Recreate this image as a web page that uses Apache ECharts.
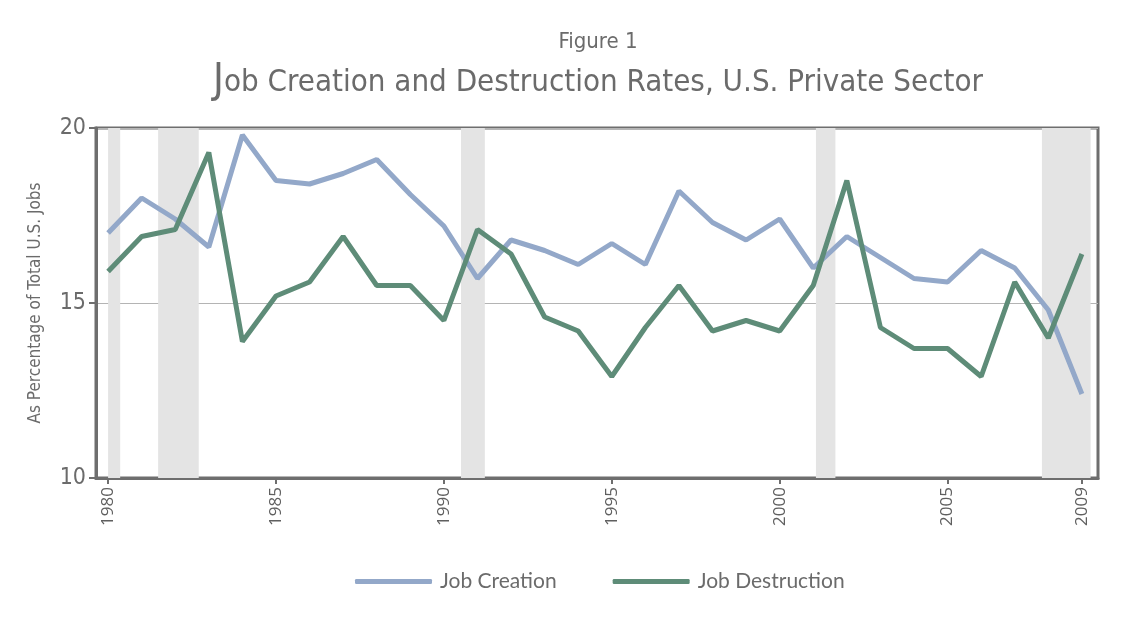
<!DOCTYPE html>
<html>
<head>
<meta charset="utf-8">
<script src="https://cdn.jsdelivr.net/npm/echarts@6/dist/echarts.min.js"></script>
<style>
html,body{margin:0;padding:0;background:#fff;}
#chart{width:1131px;height:619px;}
</style>
</head>
<body>
<div id="chart"></div>
<script>
const years = [1980,1981,1982,1983,1984,1985,1986,1987,1988,1989,1990,1991,1992,1993,1994,1995,1996,1997,1998,1999,2000,2001,2002,2003,2004,2005,2006,2007,2008,2009];
const jobCreation = [17.0,18.0,17.4,16.6,19.8,18.5,18.4,18.7,19.1,18.1,17.2,15.7,16.8,16.5,16.1,16.7,16.1,18.2,17.3,16.8,17.4,16.0,16.9,16.3,15.7,15.6,16.5,16.0,14.8,12.4];
const jobDestruction = [15.9,16.9,17.1,19.3,13.9,15.2,15.6,16.9,15.5,15.5,14.5,17.1,16.4,14.6,14.2,12.9,14.3,15.5,14.2,14.5,14.2,15.5,18.5,14.3,13.7,13.7,12.9,15.6,14.0,16.4];
const recessions = [[1980.0,1980.36],[1981.49,1982.70],[1990.51,1991.22],[2001.08,2001.66],[2007.81,2009.26]];
const xTickLabels = [1980,1985,1990,1995,2000,2005,2009];

const chart = echarts.init(document.getElementById('chart'));
const grey = '#6b6b6b';
const narrow = '"Liberation Sans Narrow", "DejaVu Sans Condensed", sans-serif';

const option = {
  animation: false,
  backgroundColor: '#fff',
  graphic: [
    {type:'text', x:598, y:42, style:{text:'Figure 1', fill:grey, font:'22px ' + narrow, textAlign:'center', textVerticalAlign:'middle'}},
    {type:'text', x:598, y:83, style:{
      text:'{j|J}ob Creation and Destruction Rates, U.S. Private Sector',
      fill:grey, font:'31px ' + narrow, textAlign:'center', textVerticalAlign:'middle',
      rich:{j:{fontSize:41, fontFamily:narrow, fill:grey, padding:[0,0,4,0]}}
    }}
  ],
  legend: {
    bottom: 22, left: 350,
    itemWidth: 77, itemHeight: 5, itemGap: 56,
    icon: 'roundRect',
    textStyle: {color: grey, fontSize: 21, fontFamily: 'Lato, "Noto Sans", sans-serif', padding:[0,0,0,3]},
    data: ['Job Creation', 'Job Destruction']
  },
  grid: {
    left: 96, right: 33, top: 128, bottom: 141,
    show: true, borderColor: '#6e6e6e', borderWidth: 3, backgroundColor: '#fff'
  },
  xAxis: {
    type: 'value', min: 1979.64, max: 2009.48,
    axisLine: {show: true, lineStyle: {color: '#6e6e6e', width: 3}},
    axisTick: {show: true, customValues: xTickLabels, length: 6, lineStyle: {color: '#6e6e6e', width: 2}},
    axisLabel: {customValues: xTickLabels, rotate: 90, color: '#5f5f5f', fontSize: 17, fontFamily: '"Open Sans", sans-serif', margin: 9, formatter: v => String(v)},
    splitLine: {show: false}
  },
  yAxis: {
    type: 'value', min: 10, max: 20, interval: 5,
    name: 'As Percentage of Total U.S. Jobs', nameLocation: 'middle', nameGap: 52, nameRotate: 90,
    nameTextStyle: {color: grey, fontSize: 17, fontFamily: narrow},
    axisLine: {show: true, lineStyle: {color: '#6e6e6e', width: 3}},
    axisTick: {show: true, length: 7, lineStyle: {color: '#6e6e6e', width: 2}},
    axisLabel: {color: grey, fontSize: 23, fontFamily: narrow, margin: 10},
    splitLine: {show: true, lineStyle: {color: '#b4b4b4', width: 1}}
  },
  series: [
    {
      name: 'Job Creation', type: 'line', symbol: 'none',
      data: years.map((y,i) => [y, jobCreation[i]]),
      lineStyle: {color: '#93a8c9', width: 5},
      itemStyle: {color: '#93a8c9'},
      z: 3,
      markArea: {
        silent: true,
        itemStyle: {color: '#e4e4e4'},
        data: recessions.map(r => [{xAxis: r[0]}, {xAxis: r[1]}])
      }
    },
    {
      name: 'Job Destruction', type: 'line', symbol: 'none',
      data: years.map((y,i) => [y, jobDestruction[i]]),
      lineStyle: {color: '#5e8c78', width: 5},
      itemStyle: {color: '#5e8c78'},
      z: 4
    }
  ]
};
chart.setOption(option);
</script>
</body>
</html>
